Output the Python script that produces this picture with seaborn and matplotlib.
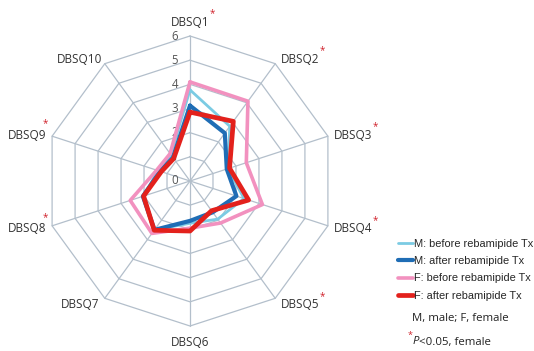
import numpy as np
import pandas as pd
import seaborn as sns
import matplotlib
matplotlib.use("Agg")
import matplotlib.pyplot as plt
from matplotlib.lines import Line2D

# DBSQ item scores (mean), by sex, before and after rebamipide treatment
items = ["DBSQ1", "DBSQ2", "DBSQ3", "DBSQ4", "DBSQ5",
         "DBSQ6", "DBSQ7", "DBSQ8", "DBSQ9", "DBSQ10"]
significant = [True, True, True, True, True, False, False, True, True, False]

m_before = [3.77, 2.80, 1.65, 2.35, 1.95, 1.75, 2.50, 2.00, 1.40, 1.35]
m_after  = [3.12, 2.45, 1.60, 2.02, 1.60, 1.65, 2.50, 2.05, 1.30, 1.20]
f_before = [4.10, 4.08, 2.45, 3.15, 2.15, 1.95, 2.68, 2.60, 1.45, 1.40]
f_after  = [2.85, 3.05, 1.72, 2.55, 1.52, 2.07, 2.52, 2.02, 1.25, 1.15]

series_names = ["M: before rebamipide Tx", "M: after rebamipide Tx",
                "F: before rebamipide Tx", "F: after rebamipide Tx"]
series_vals = [m_before, m_after, f_before, f_after]
colors = ["#7BCBE3", "#1F6DB5", "#F291BF", "#E3211C"]
widths = [2.0, 3.0, 2.6, 3.4]
ticks = [0, 1, 2, 3, 4, 5, 6]

sns.set_theme(style="white")
plt.rcParams["font.family"] = ["Open Sans", "DejaVu Sans"]

n = len(items)
theta = np.linspace(0, 2 * np.pi, n, endpoint=False)
theta_closed = np.append(theta, 2 * np.pi)

rows = []
for name, vals in zip(series_names, series_vals):
    for t, v in zip(theta_closed, list(vals) + [vals[0]]):
        rows.append({"series": name, "theta": t, "score": v})
df = pd.DataFrame(rows)

W, H = 534, 351
fig = plt.figure(figsize=(W / 100, H / 100), dpi=100)
cx, cy, R = 190, 181, 145
ax = fig.add_axes([(cx - R) / W, (H - cy - R) / H, 2 * R / W, 2 * R / H],
                  projection="polar")
ax.set_theta_zero_location("N")
ax.set_theta_direction(-1)
ax.set_ylim(0, ticks[-1])
ax.grid(False)
ax.spines["polar"].set_visible(False)
ax.patch.set_alpha(0)

grid_color = "#B3BFCB"
# decagonal rings and spokes
for k in ticks[1:]:
    ax.plot(theta_closed, [k] * (n + 1), color=grid_color, lw=0.9,
            clip_on=False, zorder=1)
for t in theta:
    ax.plot([t, t], [0, ticks[-1]], color=grid_color, lw=0.9,
            clip_on=False, zorder=1)

# radial scale labels next to the top spoke
for k in ticks:
    ax.annotate(str(k), xy=(0, k), xytext=(-15, 0), textcoords="offset pixels",
                ha="center", va="center", fontsize=8.3, color="#555555",
                annotation_clip=False)

# data series: light blue, pink, dark blue, red (red on top)
draw_order = [0, 2, 1, 3]
for i in draw_order:
    sub = df[df["series"] == series_names[i]]
    sns.lineplot(data=sub, x="theta", y="score", sort=False, estimator=None,
                 color=colors[i], linewidth=widths[i], ax=ax, legend=False,
                 zorder=3 + i)
ax.set_xlabel("")
ax.set_ylabel("")
ax.set_xticks([])
ax.set_yticks([])

# item labels around the outer ring, with significance markers
for t, lab, sig in zip(theta, items, significant):
    s, c = np.sin(t), np.cos(t)
    if abs(s) < 0.1:
        dx, dy = 0.0, 1.5 - 15.5 * c
    else:
        dx, dy = 25.0 * np.sign(s), 1.0 - 7.0 * c
    ax.annotate(lab, xy=(t, ticks[-1]), xytext=(dx, -dy),
                textcoords="offset pixels", ha="center", va="center",
                fontsize=8.5, color="#333333", annotation_clip=False)
    if sig:
        sx, sy = (18, 11) if s < -0.1 else (22, 8.5)
        ax.annotate("*", xy=(t, ticks[-1]), xytext=(dx + sx, -dy + sy),
                    textcoords="offset pixels", ha="center", va="center",
                    fontsize=7, color="#D0202A", annotation_clip=False)

# legend
handles = [Line2D([], [], color=c, lw=w) for c, w in zip(colors, widths)]
fig.legend(handles, series_names, loc="upper left",
           bbox_to_anchor=(398 / W, 1 - 239 / H), frameon=False,
           prop={"family": "Liberation Sans", "size": 7.9},
           handlelength=1.4, handletextpad=0.05, labelspacing=0.66,
           borderpad=0, borderaxespad=0)

fig.text(412 / W, 1 - 318 / H, "M, male; F, female", ha="left", va="center",
         fontsize=8.2, color="#222222")
fig.text(407.5 / W, 1 - 335 / H, "*", ha="left", va="center",
         fontsize=6.5, color="#D0202A")
p_txt = fig.text(412.5 / W, 1 - 342 / H, "P", ha="left", va="center",
                 fontsize=8.2, style="italic", color="#222222")
ax.annotate("<0.05, female", xy=(1, 0.5), xycoords=p_txt, xytext=(0.3, 0),
            textcoords="offset points", ha="left", va="center", fontsize=8.2,
            color="#222222", annotation_clip=False)

fig.savefig("out.png", dpi=100)
